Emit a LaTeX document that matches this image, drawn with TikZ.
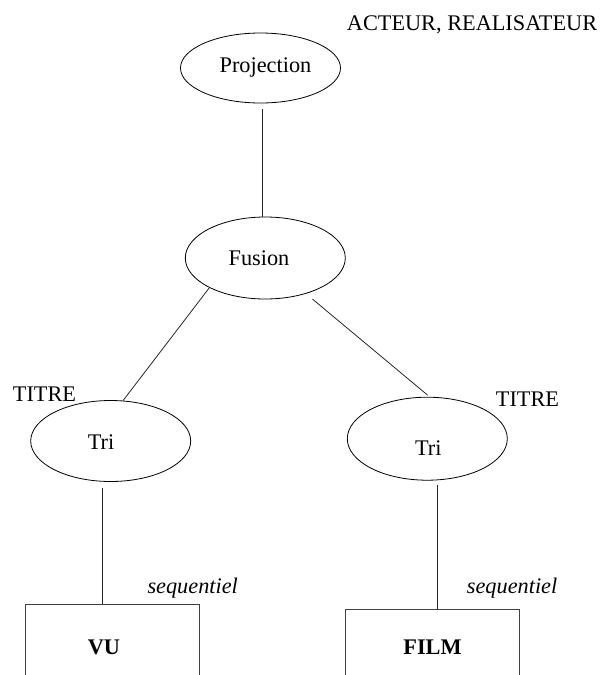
\documentclass[tikz,border=0pt]{standalone}
\usepackage{fontspec}
\setmainfont{Liberation Serif}
\usetikzlibrary{shapes.geometric,calc}
\begin{document}
\begin{tikzpicture}[x=1pt,y=-1pt,
  op/.style={draw=black, line width=0.8pt, ellipse, inner sep=0pt, minimum width=160pt},
  rel/.style={draw=black!75, line width=1.1pt, rectangle, inner sep=0pt,
              minimum width=174pt, minimum height=120pt, anchor=north},
  lbl/.style={anchor=base, inner sep=0pt, font=\fontsize{22.3}{26}\selectfont},
  link/.style={draw=black!85, line width=0.8pt}]
\useasboundingbox (0,0) rectangle (603,675);
\clip (0,0) rectangle (603,675);

% operator ellipses
\node[op, minimum height=70pt] (proj) at (260.5,68) {};
\node[op, minimum height=82pt] (fus)  at (265.3,258) {};
\node[op, minimum height=81pt] (triL) at (110.7,441) {};
\node[op, minimum height=83pt] (triR) at (427.3,438.7) {};

% base relations (open at the bottom)
\node[rel] (vu)   at (112.6,603.5) {};
\node[rel] (film) at (432.2,609) {};

% operator names
\node[lbl] (tProj) at (265.5,72.7) {Projection};
\node[lbl] (tFus)  at (259,265.7) {Fusion};
\node[lbl] (tTriL) at (101,449) {Tri};
\node[lbl] (tTriR) at (428.3,455) {Tri};

% attributes and access paths
\node[lbl, anchor=base west] (attrs) at (346.7,30) {ACTEUR, REALISATEUR};
\node[lbl, anchor=base west] (keyL)  at (12.7,401.7) {TITRE};
\node[lbl, anchor=base west] (keyR)  at (495.7,406.6) {TITRE};
\node[lbl, anchor=base west] (accL)  at (147.3,593) {\itshape sequentiel};
\node[lbl, anchor=base west] (accR)  at (466.7,593) {\itshape sequentiel};

% relation names
\node[lbl] (tVU)   at (104,654) {\bfseries VU};
\node[lbl] (tFilm) at (432.5,654) {\bfseries FILM};

% tree edges
\coordinate (p1) at ([shift={(2.2,6)}]proj.south);
\draw[link] (p1) -- (p1 |- fus.north);
\draw[link] (fus.208.8) -- (triL.73);
\draw[link] ([shift={(6.2,5.5)}]fus.-41.5) -- ([shift={(0.4,-1.6)}]triR.north);
\coordinate (p2) at ([shift={(-8,6)}]triL.south);
\draw[link] (p2) -- (p2 |- vu.north);
\coordinate (p3) at ([shift={(10,4)}]triR.south);
\draw[link] (p3) -- (p3 |- film.north);
\end{tikzpicture}
\end{document}
